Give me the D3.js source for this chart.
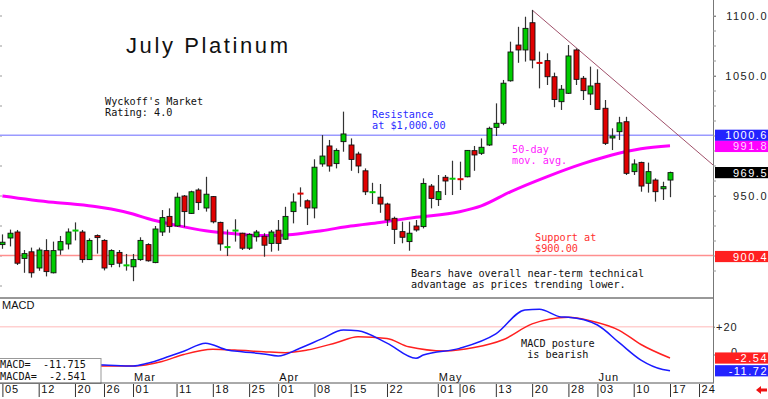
<!DOCTYPE html>
<html>
<head>
<meta charset="utf-8">
<script src="https://cdn.jsdelivr.net/npm/d3@7"></script>
<style>
  body { margin: 0; background: #fff; }
  svg { display: block; }
  .sans { font-family: "Liberation Sans", Arial, sans-serif; }
  .mono { font-family: "DejaVu Sans Mono", monospace; font-size: 10.2px; white-space: pre; }
</style>
</head>
<body>
<svg id="chart" width="768" height="399"></svg>
<script>
// Daily candles, Feb 05 (index 0) .. Jun 17 (index 92)
const opens = [909.5, 915, 920, 898, 903.5, 890, 904.5, 886, 905, 910,
  920.8, 920, 897, 917, 913, 893, 903, 891.8, 891, 897,
  909.5, 894.5, 920, 933, 925, 950, 935.5, 955, 940, 949.5,
  928, 907, 920.8, 919, 906.5, 916, 916.5, 910.5, 921.5, 914,
  937, 952.4, 946, 940, 976.7, 991.7, 977, 995.3, 992.5, 985,
  971, 952.8, 949, 943.3, 931.4, 920.3, 912, 925, 924.5, 958.3,
  947, 965.6, 964, 964.4, 966, 987.8, 985.6, 992.5, 1007.2, 1010.6,
  1046, 1075.8, 1071.7, 1094.4, 1061.3, 1062.8, 1049.4, 1028.6, 1035.6, 1071.7,
  1048.1, 1035, 1043.9, 1023.1, 998.8, 1003.6, 1011.9, 970.3, 978, 960.6,
  963.3, 956, 963.3];
const highs = [918, 922, 921.7, 905, 907, 907, 914, 912, 916.7, 923,
  928, 921.7, 914.7, 918, 914, 905.6, 905, 901.7, 901.7, 915.6,
  910.6, 925, 938.3, 939.7, 952.8, 950.8, 954.4, 956.4, 966, 950,
  928.6, 922, 930.6, 919.4, 919, 921.7, 919, 921.7, 930, 941,
  952.2, 957.2, 947.2, 980.6, 1000.8, 996.7, 989.7, 1020.3, 998, 986.9,
  973, 961, 960, 944.4, 932.8, 928.6, 928.6, 930, 964.7, 960,
  967.5, 967.5, 979.4, 978.6, 988.3, 991.7, 998, 1007.8, 1027.2, 1046.7,
  1078.6, 1091, 1099.4, 1105, 1070.3, 1068.9, 1052.8, 1042.5, 1075.8, 1073,
  1050, 1057.8, 1055.6, 1030, 1006.4, 1016, 1016, 980.6, 978.6, 977.8,
  964.7, 961.9, 970.3];
const lows = [906, 908, 892.5, 886, 882, 887.7, 883, 885.5, 901, 905.5,
  913, 894.4, 896.7, 902, 888, 890.6, 890.6, 887.8, 879, 896,
  895.3, 894, 916.7, 919.4, 924.4, 924, 935, 938.3, 937, 927.2,
  904.4, 900, 912, 905, 905, 912, 899.4, 903.6, 904.4, 913.3,
  927.2, 941, 925.8, 931.4, 974.4, 970.3, 973, 986.9, 971, 969,
  950.8, 943.3, 936, 925, 910, 910.6, 904.4, 920.3, 923, 939.7,
  941.7, 950.8, 950.8, 955, 965.6, 971, 984.2, 991.7, 1000, 1009,
  1045.3, 1061, 1062, 1056.4, 1039.7, 1042.5, 1024, 1021.7, 1035, 1042.5,
  1030, 1025.8, 1021.7, 992.5, 988.3, 996.7, 967.5, 967.5, 953.6, 952.8,
  945.3, 946.7, 949];
const closes = [911.5, 919, 894, 902, 886, 905, 887, 904.5, 912, 920,
  921.2, 897, 913, 915.5, 890, 904.5, 894, 892.2, 897, 913,
  896, 922.5, 932, 924.5, 949, 937, 953.5, 944.5, 951.5, 928.5,
  910, 907.4, 921.2, 906.5, 918, 920, 909, 920, 910.5, 933,
  945, 952, 940, 974, 983.3, 975, 988, 1001.7, 980.5, 975,
  953.5, 953.2, 943.3, 930, 922.2, 915.6, 919, 921.7, 960.5, 948,
  953.6, 962.5, 964.4, 964, 988, 984.2, 990.6, 1006.4, 1010.6, 1044,
  1070, 1071.7, 1089.7, 1063.3, 1060.9, 1049.4, 1030.4, 1039, 1066.7, 1047.2,
  1037.8, 1041.7, 1022.2, 993.9, 1000, 1011, 968.9, 976.7, 958.3, 970.3,
  953.6, 957.8, 969.5];

// 50-day moving average, read at these candle indexes
const maIdx = [0, 7, 10, 13, 15, 18, 20, 24, 28, 32, 36, 40, 44, 48, 52, 57, 63, 66, 70, 75, 80, 84, 88, 92];
const maVal = [950, 944.7, 943.1, 941.1, 939.2, 935, 931.2, 925.5, 921, 918.5, 917, 918, 921.1, 925, 928, 932.2, 936.9, 941.8, 953.5, 966, 977, 984.2, 989.3, 991.8];

// MACD (blue) and its average (red)
const macdIdx = [0, 8, 14, 18, 20, 23, 25, 28, 31, 33, 36, 38, 41, 44, 47, 49, 53, 57, 58, 63, 68, 72, 74, 77, 78, 82, 85, 88, 91, 92];
const macdVal = [-6, -7, -7.6, -8.3, -6.3, -1.3, 2.3, 8.1, 3.2, 2.0, 0.4, -1.1, 4.5, 11.2, 17.6, 17, 8.2, -2.7, -0.4, 4.4, 14.8, 32, 32.5, 27, 26.8, 21.2, 8.5, -4, -10.8, -11.715];
const sigIdx = [0, 8, 14, 18, 22, 25, 29, 32, 36, 39, 42, 46, 49, 53, 56, 61, 65, 69, 73, 78, 81, 85, 88, 92];
const sigVal = [-6.5, -7.5, -8.3, -8.3, -5, 0, 3.7, 3.2, 2.0, 1.3, 3.2, 8.5, 12.8, 11.5, 5.5, 2.5, 5, 10.6, 22, 26.8, 24.3, 17.4, 7.2, -2.541];

// levels and trend line
const resistLevel = 1000.6;
const supportLevel = 900.4;
const trendIdx = [73, 98];
const trendVal = [1105, 975.5];

// date axis
const dayIdx = [0, 5, 10, 14, 18, 24, 29, 34, 38, 43, 48, 53, 60, 63, 68, 73, 78, 82, 87, 92, 96];
const dayLabels = ['05', '12', '20', '26', '01', '11', '18', '25', '01', '08', '15', '22', '01', '06', '13', '20', '28', '03', '10', '17', '24'];
const monthIdx = [18, 38, 60, 82];
const monthLabels = ['Mar', 'Apr', 'May', 'Jun'];
const priceTicks = [950, 1050, 1100];
const macdTicks = [20, 0];

const plotR = 713, panelSplit = 298, bottom = 383;

const svg = d3.select('#chart');

const x = d3.scaleLinear().domain([0, 92]).range([2.4, 670]);
const y = d3.scaleLinear().domain([900, 1100]).range([256, 16]);
const ym = d3.scaleLinear().domain([0, 20]).range([354.5, 326.7]);

// rounds half away from zero (-11.715 -> -11.72)
const fix = (v, d) => (v + Math.sign(v) * 1e-9).toFixed(d);

svg.append('clipPath').attr('id', 'clipP').append('rect')
  .attr('x', 0).attr('y', 0).attr('width', plotR).attr('height', panelSplit);
svg.append('clipPath').attr('id', 'clipM').append('rect')
  .attr('x', 0).attr('y', panelSplit).attr('width', plotR).attr('height', bottom - panelSplit);

const price = svg.append('g').attr('clip-path', 'url(#clipP)');

// small ticks on the left edge
price.selectAll('line.lt').data(d3.range(875, 1101, 25)).join('line')
  .attr('x1', 0).attr('x2', 2).attr('y1', d => y(d)).attr('y2', d => y(d))
  .attr('stroke', '#999');

// support / resistance
price.append('line').attr('x1', 0).attr('x2', plotR)
  .attr('y1', y(resistLevel)).attr('y2', y(resistLevel))
  .attr('stroke', '#9a9aff').attr('stroke-width', 1.5);
price.append('line').attr('x1', 0).attr('x2', plotR)
  .attr('y1', y(supportLevel)).attr('y2', y(supportLevel))
  .attr('stroke', '#ff8f8f').attr('stroke-width', 1.5);

// moving average
price.append('path')
  .datum(d3.zip(maIdx, maVal))
  .attr('fill', 'none').attr('stroke', '#ff00ff').attr('stroke-width', 3)
  .attr('d', d3.line().x(d => x(d[0])).y(d => y(d[1])).curve(d3.curveMonotoneX));

// trend line
price.append('line')
  .attr('x1', x(trendIdx[0])).attr('y1', y(trendVal[0]))
  .attr('x2', x(trendIdx[1])).attr('y2', y(trendVal[1]))
  .attr('stroke', '#a0506a').attr('stroke-width', 1);

// candles
const idx = d3.range(opens.length);
const cx = i => Math.round(x(i)) + 0.5;
const col = i => closes[i] >= opens[i] ? '#00cc00' : '#e00000';
const doji = i => Math.abs(closes[i] - opens[i]) < 0.7;

price.selectAll('line.wick').data(idx).join('line')
  .attr('x1', cx).attr('x2', cx)
  .attr('y1', i => y(highs[i])).attr('y2', i => y(lows[i]))
  .attr('stroke', '#333').attr('stroke-width', 1.2);

price.selectAll('rect.body').data(idx.filter(i => !doji(i))).join('rect')
  .attr('x', i => cx(i) - 2.5).attr('width', 5)
  .attr('y', i => Math.min(y(opens[i]), y(closes[i])))
  .attr('height', i => Math.max(Math.abs(y(opens[i]) - y(closes[i])), 2))
  .attr('fill', col).attr('stroke', '#111').attr('stroke-width', 0.9);

price.selectAll('rect.doji').data(idx.filter(doji)).join('rect')
  .attr('x', i => cx(i) - 3).attr('width', 6)
  .attr('y', i => y(closes[i]) - 1).attr('height', 2)
  .attr('fill', col);

// texts in price panel
svg.append('text').attr('class', 'sans').attr('x', 126).attr('y', 52.5)
  .attr('font-size', 22).attr('letter-spacing', '2.6px').attr('fill', '#111')
  .text('July Platinum');

function note(lines, x0, y0, color) {
  lines.forEach((t, k) => {
    svg.append('text').attr('class', 'mono').attr('x', x0).attr('y', y0 + k * 11)
      .attr('fill', color).text(t);
  });
}
note(["Wyckoff's Market", 'Rating: 4.0'], 105, 104.5, '#111');
note(['Resistance', 'at $1,000.00'], 372, 118, '#2b2bff');
note(['50-day', 'mov. avg.'], 512, 152.5, '#ff22ff');
note(['Support at', '$900.00'], 535, 241, '#ff3030');
note(['Bears have overall near-term technical', 'advantage as prices trending lower.'], 411, 276.5, '#111');

// MACD panel
const mp = svg.append('g').attr('clip-path', 'url(#clipM)');
mp.append('line').attr('x1', 0).attr('x2', plotR).attr('y1', ym(20)).attr('y2', ym(20))
  .attr('stroke', '#ffd0d0').attr('stroke-width', 1.5);
const mline = d3.line().x(d => x(d[0])).y(d => ym(d[1])).curve(d3.curveMonotoneX);
mp.append('path').datum(d3.zip(sigIdx, sigVal))
  .attr('fill', 'none').attr('stroke', '#ff2020').attr('stroke-width', 1.5).attr('d', mline);
mp.append('path').datum(d3.zip(macdIdx, macdVal))
  .attr('fill', 'none').attr('stroke', '#1a1aff').attr('stroke-width', 1.5).attr('d', mline);

svg.append('text').attr('class', 'sans').attr('x', 2).attr('y', 309)
  .attr('font-size', 11).attr('fill', '#111').text('MACD');
note(['MACD posture', ' is bearish'], 521, 346.5, '#111');

svg.selectAll('text.month').data(monthIdx).join('text')
  .attr('class', 'sans').attr('x', d => x(d) + 1).attr('y', 380.5)
  .attr('font-size', 11).attr('letter-spacing', '1px').attr('fill', '#111')
  .text((d, k) => monthLabels[k]);

// value box bottom-left
svg.append('rect').attr('x', -1).attr('y', 358.5).attr('width', 102).attr('height', 25)
  .attr('fill', '#fff').attr('stroke', '#999');
const lastMacd = macdVal[macdVal.length - 1], lastSig = sigVal[sigVal.length - 1];
svg.append('text').attr('class', 'mono').attr('font-size', 11).attr('x', 0).attr('y', 368)
  .attr('fill', '#111').text('MACD=  ' + fix(lastMacd, 3));
svg.append('text').attr('class', 'mono').attr('font-size', 11).attr('x', 0).attr('y', 380)
  .attr('fill', '#111').text('MACDA=  ' + fix(lastSig, 3));

// panel borders
svg.append('line').attr('x1', 0).attr('x2', plotR + 1).attr('y1', panelSplit).attr('y2', panelSplit)
  .attr('stroke', '#333');
svg.append('line').attr('x1', 0).attr('x2', plotR + 1).attr('y1', bottom).attr('y2', bottom)
  .attr('stroke', '#555');
svg.append('line').attr('x1', plotR + 0.5).attr('x2', plotR + 0.5).attr('y1', 0).attr('y2', bottom)
  .attr('stroke', '#777');

// right price axis
const ax = svg.append('g').attr('class', 'sans').attr('transform', `translate(${plotR},0)`)
  .call(d3.axisRight(y).tickValues(priceTicks).tickFormat(d3.format('.1f')).tickSize(3));
ax.select('.domain').remove();
ax.selectAll('line').attr('stroke', '#777');
ax.selectAll('text').attr('x', 55).attr('text-anchor', 'end')
  .attr('font-size', 11).attr('letter-spacing', '1.5px').attr('fill', '#222');

svg.selectAll('line.minor').data(d3.range(887.5, 1112, 12.5)).join('line')
  .attr('x1', plotR).attr('x2', plotR + 3).attr('y1', d => y(d)).attr('y2', d => y(d))
  .attr('stroke', '#999');

function valueBox(yy, v, fill, txtCol, digits) {
  svg.append('rect').attr('x', plotR + 2).attr('y', yy - 5.6).attr('width', 768 - plotR - 2)
    .attr('height', 11.2).attr('fill', fill);
  svg.append('text').attr('class', 'sans').attr('x', 768).attr('y', yy + 4)
    .attr('text-anchor', 'end').attr('font-size', 11).attr('letter-spacing', '1.5px')
    .attr('fill', txtCol).text(fix(v, digits));
}

// MACD axis ("0" mostly hidden behind the signal box, as in the original)
const am = svg.append('g').attr('class', 'sans').attr('transform', `translate(${plotR},0)`)
  .call(d3.axisRight(ym).tickValues(macdTicks).tickFormat(d => d > 0 ? '+' + d : d).tickSize(2));
am.select('.domain').remove();
am.selectAll('line').attr('stroke', '#777');
am.selectAll('text').attr('font-size', 11).attr('letter-spacing', '1px').attr('fill', '#222')
  .attr('x', d => d > 0 ? 3 : 18).attr('y', d => d > 0 ? 0 : -3);

valueBox(y(resistLevel), resistLevel, '#2323ff', '#fff', 1);
valueBox(y(maVal[maVal.length - 1]) + 0.6, maVal[maVal.length - 1], '#ff00ff', '#ffd6ff', 1);
valueBox(y(closes[closes.length - 1]), closes[closes.length - 1], '#000', '#fff', 1);
valueBox(y(supportLevel) + 1, supportLevel, '#ff2020', '#fff', 1);
valueBox(ym(lastSig), lastSig, '#ff2020', '#fff', 2);
valueBox(ym(lastMacd), lastMacd, '#2323ff', '#fff', 2);

// date axis
const ad = svg.append('g').attr('class', 'sans').attr('transform', `translate(0,${bottom})`)
  .call(d3.axisBottom(x).tickValues(dayIdx).tickFormat((d, k) => dayLabels[k]).tickSize(14));
ad.select('.domain').remove();
ad.selectAll('.tick line').attr('stroke', '#333').attr('y1', 1);
ad.selectAll('.tick text').attr('text-anchor', 'start').attr('x', 2).attr('y', 2.5)
  .attr('font-size', 11).attr('letter-spacing', '1px').attr('fill', '#111');

// little red arrow bottom-right
svg.append('path').attr('d', 'M756,390 L761,386 L761,388.5 L767,388.5 L767,391.5 L761,391.5 L761,394 Z')
  .attr('fill', '#ee1111');
</script>
</body>
</html>
